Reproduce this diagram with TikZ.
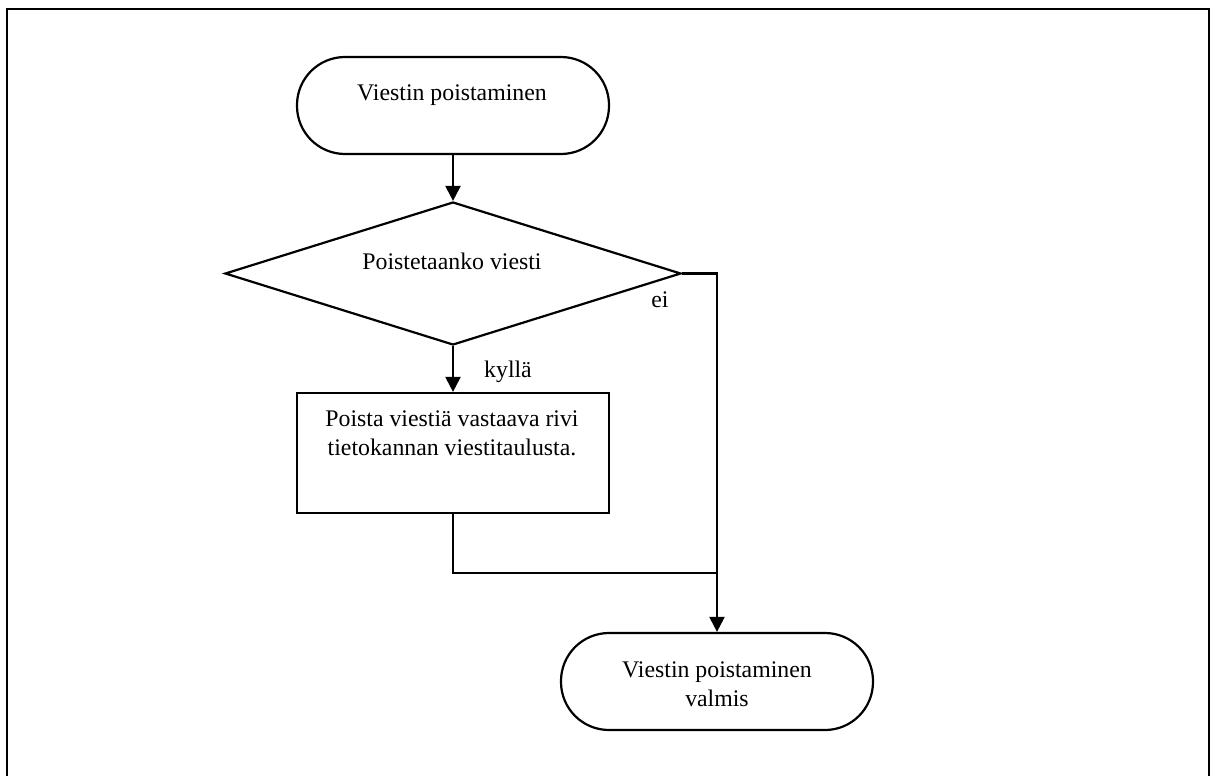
\documentclass[tikz,border=0pt]{standalone}
\usepackage{fontspec}
\setmainfont{Liberation Serif}
\usetikzlibrary{shapes.geometric,arrows.meta}
\tikzset{
  shp/.style={draw, line width=1.1pt, inner sep=0pt},
  term/.style={shp, rectangle, rounded corners=24pt, minimum width=156pt, minimum height=48.5pt},
  procbox/.style={shp, rectangle, minimum width=156pt, minimum height=60pt},
  decbox/.style={shp, diamond, minimum width=228pt, minimum height=71.5pt},
  txt/.style={font=\fontsize{11.9}{14.5}\selectfont, align=center, inner sep=0pt},
  conn/.style={line width=1.1pt},
  arr/.style={conn, -{Triangle[width=7.5pt,length=7.5pt]}}
}
\begin{document}
\begin{tikzpicture}[x=0.5pt,y=-0.5pt]
\useasboundingbox (0,0) rectangle (1216,776);
\draw[line width=1.1pt] (7,790) coordinate (fbl) -- (7,9) coordinate (ftl) -- (1209,9) coordinate (ftr) -- (1209,790) coordinate (fbr);
\node[term] (start) at (453,105.5) {};
\node[txt] (starttxt) at (452,95) {Viestin poistaminen};
\node[decbox] (dec) at (453,273.5) {};
\node[txt] (dectxt) at (452,261) {Poistetaanko viesti};
\node[procbox] (proc) at (453,453) {};
\node[txt] (proctxt) at (452,433) {Poista viestiä vastaava rivi\\tietokannan viestitaulusta.};
\node[term] (end) at (717,681.5) {};
\node[txt] (endtxt) at (717,684) {Viestin poistaminen\\valmis};
\node[txt] (ei) at (660,300) {ei};
\node[txt] (kylla) at (508,372) {kyllä};
\coordinate (join) at (717,573);
\draw[arr] (start.south) -- (dec.north);
\draw[arr] (dec.south) -- (proc.north);
\draw[arr] (dec.east) -| (end.north);
\draw[conn] (proc.south) |- (join);
\end{tikzpicture}
\end{document}
